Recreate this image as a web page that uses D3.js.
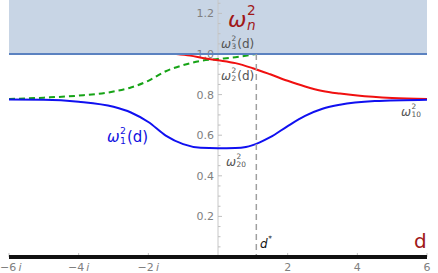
<!DOCTYPE html>
<html>
<head>
<meta charset="utf-8">
<script src="https://cdn.jsdelivr.net/npm/d3@7"></script>
<style>
  body { margin: 0; background: #fff; }
  svg { display: block; font-family: "DejaVu Sans", sans-serif; }
</style>
</head>
<body>
<svg id="chart" width="438" height="273"></svg>
<script>
// eigenvalue branches vs d
const blueD = [-6, -5, -4, -3, -2.5, -2, -1.5, -1, -0.5, 0, 0.5, 0.8, 1.2, 1.5, 2, 2.5, 3, 3.5, 4.5, 6];
const blueW = [0.776, 0.775, 0.765, 0.74, 0.712, 0.665, 0.598, 0.556, 0.538, 0.536, 0.537, 0.542, 0.565, 0.59, 0.645, 0.695, 0.73, 0.75, 0.768, 0.775];

const redD = [-1.2, -0.8, -0.4, 0, 0.5, 1, 1.5, 2, 2.5, 3, 3.5, 4, 5, 6];
const redW = [1.0, 0.992, 0.979, 0.969, 0.955, 0.93, 0.9, 0.868, 0.84, 0.818, 0.805, 0.795, 0.783, 0.778];

const greenD = [-6, -5, -4, -3, -2.5, -2, -1.5, -1, -0.5, 0, 0.5, 1.1];
const greenW = [0.778, 0.785, 0.795, 0.815, 0.835, 0.868, 0.915, 0.945, 0.966, 0.975, 0.984, 1.0];

const dStar = 1.1;
const threshold = 1.0;

const xTickVals = [-6, -4, -2, 2, 4, 6];
const xTickLabels = ["\u22126", "\u22124", "\u22122", "2", "4", "6"];
const yTickVals = [0.2, 0.4, 0.6, 0.8, 1.0, 1.2];
const yTickLabels = ["0.2", "0.4", "0.6", "0.8", "1.0", "1.2"];

const svg = d3.select("#chart");
const x = d3.scaleLinear().domain([-6, 6]).range([9, 427]);
const y = d3.scaleLinear().domain([0, 1.2]).range([257, 13.4]);
const yTop = y.invert(0);

// shaded region above 1
svg.append("rect")
    .attr("x", x(-6))
    .attr("y", y(yTop))
    .attr("width", x(6) - x(-6))
    .attr("height", y(threshold) - y(yTop))
    .attr("fill", "#c8d5e5");

// y axis
svg.append("line")
    .attr("x1", x(0)).attr("x2", x(0))
    .attr("y1", 0).attr("y2", y(0))
    .attr("stroke", "#c8c8c8");

const minorY = d3.range(0.05, 1.27, 0.05);
svg.selectAll(".ytick")
    .data(minorY)
    .enter().append("line")
    .attr("x1", x(0))
    .attr("x2", d => x(0) + (Math.abs(d * 5 - Math.round(d * 5)) < 1e-6 ? 4 : 2.5))
    .attr("y1", d => y(d)).attr("y2", d => y(d))
    .attr("stroke", "#c0c0c0");

svg.selectAll(".ylab")
    .data(yTickVals)
    .enter().append("text")
    .attr("x", x(0) - 4)
    .attr("y", d => y(d) + 4)
    .attr("text-anchor", "end")
    .attr("font-size", 11)
    .attr("fill", "#808080")
    .text((d, i) => yTickLabels[i]);

// x ticks
const minorX = d3.range(-6, 6.01, 0.5).filter(d => d !== 0);
svg.selectAll(".xtick")
    .data(minorX)
    .enter().append("line")
    .attr("x1", d => x(d)).attr("x2", d => x(d))
    .attr("y1", y(0))
    .attr("y2", d => y(0) - (d % 2 === 0 ? 4 : 2))
    .attr("stroke", "#c0c0c0");

const xl = svg.selectAll(".xlab")
    .data(xTickVals)
    .enter().append("text")
    .attr("x", d => d === -6 ? 0 : x(d))
    .attr("y", 271)
    .attr("text-anchor", d => d === -6 ? "start" : "middle")
    .attr("font-size", 11)
    .attr("fill", "#808080");
xl.append("tspan").text((d, i) => xTickLabels[i]);
xl.filter(d => d < 0).append("tspan").attr("font-style", "italic").text("\u2009i");

// curves
const line = d3.line().x(d => x(d[0])).y(d => y(d[1])).curve(d3.curveMonotoneX);

svg.append("path")
    .datum(greenD.map((d, i) => [d, greenW[i]]))
    .attr("d", line)
    .attr("fill", "none")
    .attr("stroke", "#16a316")
    .attr("stroke-width", 2)
    .attr("stroke-dasharray", "6,4");

svg.append("path")
    .datum(redD.map((d, i) => [d, redW[i]]))
    .attr("d", line)
    .attr("fill", "none")
    .attr("stroke", "#f01010")
    .attr("stroke-width", 2);

svg.append("path")
    .datum(blueD.map((d, i) => [d, blueW[i]]))
    .attr("d", line)
    .attr("fill", "none")
    .attr("stroke", "#1010f0")
    .attr("stroke-width", 2);

// threshold line
svg.append("line")
    .attr("x1", x(-6)).attr("x2", x(6))
    .attr("y1", y(threshold)).attr("y2", y(threshold))
    .attr("stroke", "#5b82c0")
    .attr("stroke-width", 2);

// d* marker
svg.append("line")
    .attr("x1", x(dStar)).attr("x2", x(dStar))
    .attr("y1", y(threshold)).attr("y2", y(0))
    .attr("stroke", "#a0a0a0")
    .attr("stroke-width", 1.5)
    .attr("stroke-dasharray", "6,4");

// thick base line
svg.append("line")
    .attr("x1", x(-6)).attr("x2", x(6))
    .attr("y1", y(0)).attr("y2", y(0))
    .attr("stroke", "#111")
    .attr("stroke-width", 4);

// label with sub/superscript
function mathLabel(px, py, size, color, base, sup, sub, tail, italic) {
    const g = svg.append("g").attr("fill", color);
    const b = g.append("text").attr("x", px).attr("y", py)
        .attr("font-size", size)
        .attr("font-style", italic ? "italic" : "normal")
        .text(base);
    let w = b.node().getComputedTextLength();
    let xs = px + w + 0.5;
    let adv = 0;
    const s = size * 0.62;
    if (sup) {
        const t = g.append("text").attr("x", xs).attr("y", py - size * 0.55)
            .attr("font-size", s).text(sup);
        adv = Math.max(adv, t.node().getComputedTextLength());
    }
    if (sub) {
        const t = g.append("text").attr("x", xs).attr("y", py + size * 0.12)
            .attr("font-size", s)
            .attr("font-style", sub === "n" ? "italic" : "normal")
            .text(sub);
        adv = Math.max(adv, t.node().getComputedTextLength());
    }
    if (tail) {
        g.append("text").attr("x", xs + adv + 1).attr("y", py)
            .attr("font-size", size).text(tail);
    }
}

mathLabel(228, 27, 22, "#a01818", "\u03c9", "2", "n", null, true);
mathLabel(221, 48, 12, "#555", "\u03c9", "2", "3", "(d)", true);
mathLabel(221, 80, 12, "#555", "\u03c9", "2", "2", "(d)", true);
mathLabel(226, 166, 12, "#555", "\u03c9", "2", "20", null, true);
mathLabel(401, 116, 12, "#555", "\u03c9", "2", "10", null, true);
mathLabel(107, 142, 15, "#1010e0", "\u03c9", "2", "1", "(d)", true);
mathLabel(260, 248, 12, "#111", "d", "*", null, null, true);

svg.append("text")
    .attr("x", 414).attr("y", 248)
    .attr("font-size", 20)
    .attr("fill", "#a01818")
    .text("d");
</script>
</body>
</html>
